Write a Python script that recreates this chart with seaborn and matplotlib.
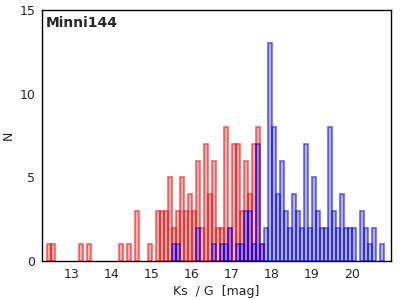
import numpy as np
import pandas as pd
import seaborn as sns
import matplotlib.pyplot as plt
from matplotlib.ticker import MultipleLocator

# Ks histogram: lower bin edge (mag) and count
ks_mag = [12.4, 12.5, 13.2, 13.4, 14.2, 14.4, 14.6, 14.9, 15.1, 15.2, 15.3, 15.4,
          15.5, 15.6, 15.7, 15.8, 15.9, 16.0, 16.1, 16.2, 16.3, 16.4, 16.5, 16.6,
          16.7, 16.8, 16.9, 17.0, 17.1, 17.2, 17.3, 17.4, 17.5, 17.6, 17.7]
ks_n = [1, 1, 1, 1, 1, 1, 3, 1, 3, 3, 3, 5,
        2, 3, 5, 3, 4, 3, 6, 2, 7, 4, 6, 2,
        2, 8, 2, 7, 7, 3, 6, 4, 7, 8, 1]

# G histogram
g_mag = [15.5, 15.6, 16.1, 16.5, 16.7, 16.8, 16.9, 17.1, 17.2, 17.3, 17.4, 17.5,
         17.6, 17.7, 17.8, 17.9, 18.0, 18.1, 18.2, 18.3, 18.4, 18.5, 18.6, 18.7,
         18.8, 18.9, 19.0, 19.1, 19.2, 19.3, 19.4, 19.5, 19.6, 19.7, 19.8, 19.9,
         20.0, 20.2, 20.3, 20.4, 20.5, 20.7]
g_n = [1, 1, 2, 1, 1, 1, 2, 1, 1, 3, 3, 1,
       7, 1, 2, 13, 8, 4, 6, 3, 2, 4, 3, 2,
       7, 2, 5, 3, 2, 2, 8, 3, 2, 4, 2, 2,
       2, 3, 2, 1, 2, 1]

title = "Minni144"

sns.set_style("white")
plt.rcParams['font.family'] = ['DejaVu Sans']

ks = pd.DataFrame({"mag": np.array(ks_mag) + 0.05, "n": ks_n})
g = pd.DataFrame({"mag": np.array(g_mag) + 0.05, "n": g_n})
edges = [round(12.2 + 0.1 * i, 2) for i in range(89)]

fig = plt.figure(figsize=(4, 3), dpi=100)
ax = fig.add_axes([0.105, 0.13, 0.8725, 0.8367])

sns.histplot(data=ks, x="mag", weights="n", bins=edges, ax=ax,
             facecolor=(1, 0, 0, 0.3), edgecolor=(1, 0, 0, 0.55), linewidth=1.3)
sns.histplot(data=g, x="mag", weights="n", bins=edges, ax=ax,
             facecolor=(0, 0, 1, 0.3), edgecolor=(0, 0, 1, 0.55), linewidth=1.3)

# empty bins should not leave an outline on the baseline
for p in ax.patches:
    if p.get_height() == 0:
        p.set_visible(False)

ax.set_xlim(12.27, 20.97)
ax.set_ylim(0, 15)
ax.xaxis.set_major_locator(MultipleLocator(1))
ax.xaxis.set_minor_locator(MultipleLocator(0.1))
ax.yaxis.set_major_locator(MultipleLocator(5))
ax.yaxis.set_minor_locator(MultipleLocator(1))
ax.tick_params(which="major", direction="inout", length=6, width=1, labelsize=9, pad=2)
ax.tick_params(which="minor", direction="in", length=3, width=1)

for s in ax.spines.values():
    s.set_color("black")
    s.set_linewidth(1)

ax.set_xlabel("Ks  / G  [mag]", fontsize=9, labelpad=3)
ax.set_ylabel("N", fontsize=9, labelpad=3)
ax.text(0.012, 0.975, title, transform=ax.transAxes, ha="left", va="top",
        fontsize=10, fontweight="bold")

fig.savefig("out.png", dpi=100)
